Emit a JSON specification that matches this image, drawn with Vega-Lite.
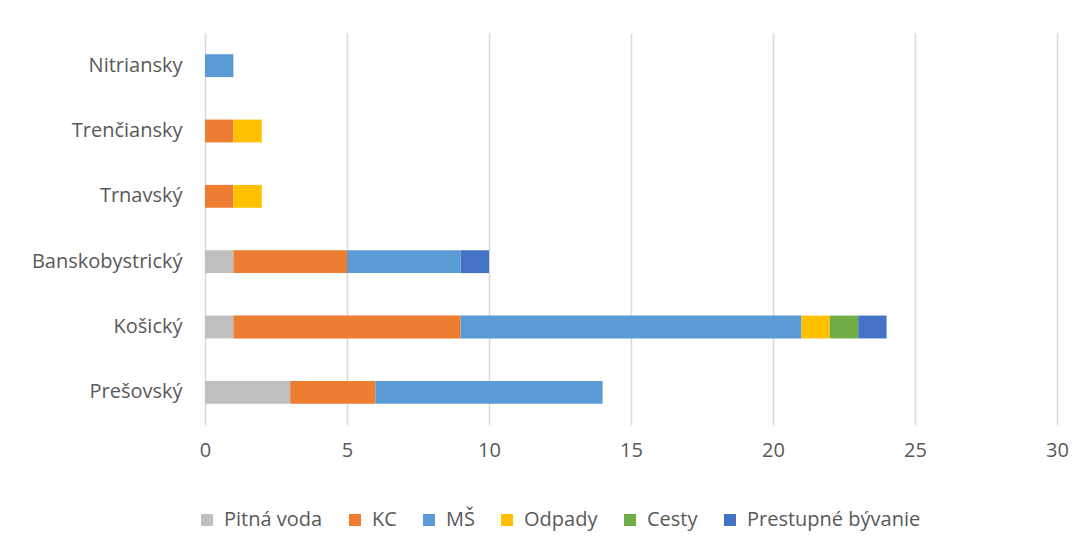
{
  "$schema": "https://vega.github.io/schema/vega-lite/v6.json",
  "width": 852,
  "height": 392,
  "autosize": {"type": "none"},
  "padding": {"left": 205, "top": 33, "right": 32, "bottom": 129},
  "background": "white",
  "config": {
    "view": {"stroke": null},
    "font": "Open Sans",
    "axis": {"labelFont": "Open Sans", "labelColor": "#595959", "labelFontSize": 19}
  },
  "data": {
    "values": [
      {"kraj": "Nitriansky", "typ": "MŠ", "poradie": 3, "pocet": 1},
      {"kraj": "Trenčiansky", "typ": "KC", "poradie": 2, "pocet": 1},
      {"kraj": "Trenčiansky", "typ": "Odpady", "poradie": 4, "pocet": 1},
      {"kraj": "Trnavský", "typ": "KC", "poradie": 2, "pocet": 1},
      {"kraj": "Trnavský", "typ": "Odpady", "poradie": 4, "pocet": 1},
      {"kraj": "Banskobystrický", "typ": "Pitná voda", "poradie": 1, "pocet": 1},
      {"kraj": "Banskobystrický", "typ": "KC", "poradie": 2, "pocet": 4},
      {"kraj": "Banskobystrický", "typ": "MŠ", "poradie": 3, "pocet": 4},
      {"kraj": "Banskobystrický", "typ": "Prestupné bývanie", "poradie": 6, "pocet": 1},
      {"kraj": "Košický", "typ": "Pitná voda", "poradie": 1, "pocet": 1},
      {"kraj": "Košický", "typ": "KC", "poradie": 2, "pocet": 8},
      {"kraj": "Košický", "typ": "MŠ", "poradie": 3, "pocet": 12},
      {"kraj": "Košický", "typ": "Odpady", "poradie": 4, "pocet": 1},
      {"kraj": "Košický", "typ": "Cesty", "poradie": 5, "pocet": 1},
      {"kraj": "Košický", "typ": "Prestupné bývanie", "poradie": 6, "pocet": 1},
      {"kraj": "Prešovský", "typ": "Pitná voda", "poradie": 1, "pocet": 3},
      {"kraj": "Prešovský", "typ": "KC", "poradie": 2, "pocet": 3},
      {"kraj": "Prešovský", "typ": "MŠ", "poradie": 3, "pocet": 8}
    ]
  },
  "mark": {"type": "bar"},
  "encoding": {
    "y": {
      "field": "kraj",
      "type": "nominal",
      "sort": ["Nitriansky", "Trenčiansky", "Trnavský", "Banskobystrický", "Košický", "Prešovský"],
      "scale": {"paddingInner": 0.65, "paddingOuter": 0.325},
      "axis": {"title": null, "domain": false, "ticks": false, "labelPadding": 23, "labelFontSize": 20}
    },
    "x": {
      "field": "pocet",
      "type": "quantitative",
      "stack": "zero",
      "scale": {"domain": [0, 30], "nice": false},
      "axis": {
        "title": null,
        "values": [0, 5, 10, 15, 20, 25, 30],
        "domain": false,
        "ticks": false,
        "labelFlush": false,
        "labelPadding": 15,
        "labelFontSize": 20,
        "grid": true,
        "gridColor": "#D9D9D9",
        "gridWidth": 1.5
      }
    },
    "color": {
      "field": "typ",
      "type": "nominal",
      "scale": {
        "domain": ["Pitná voda", "KC", "MŠ", "Odpady", "Cesty", "Prestupné bývanie"],
        "range": ["#BFBFBF", "#ED7D31", "#5B9BD5", "#FFC000", "#70AD47", "#4472C4"]
      },
      "legend": {
        "title": null,
        "orient": "none",
        "direction": "horizontal",
        "legendX": -8,
        "legendY": 477,
        "symbolType": "square",
        "symbolSize": 144,
        "symbolStrokeWidth": 0,
        "labelFontSize": 20,
        "labelFont": "Open Sans",
        "labelColor": "#595959",
        "labelLimit": 400,
        "labelOffset": 7,
        "columnPadding": 22
      }
    },
    "order": {"field": "poradie", "type": "quantitative"}
  }
}
